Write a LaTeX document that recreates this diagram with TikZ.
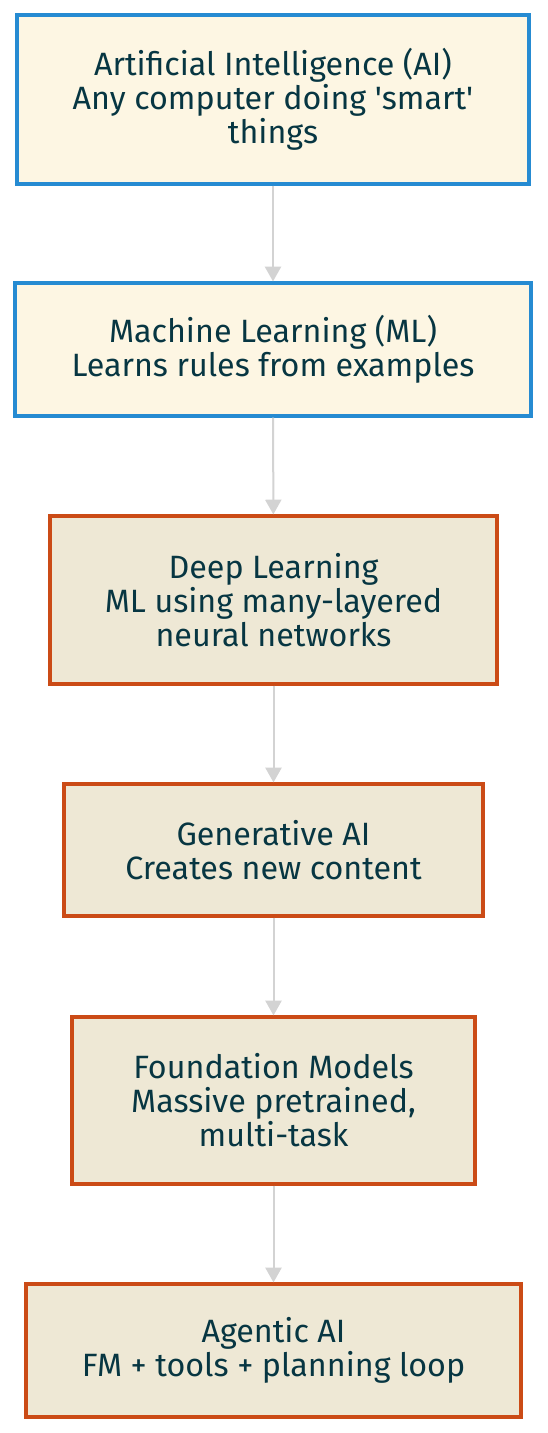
\documentclass[tikz,border=0pt]{standalone}
\usepackage{fontspec}
\setmainfont{Fira Sans}
\usetikzlibrary{arrows.meta}
\definecolor{txt}{HTML}{073642}
\definecolor{blueb}{HTML}{268BD2}
\definecolor{orangeb}{HTML}{CB4B16}
\definecolor{fillA}{HTML}{FDF6E3}
\definecolor{fillB}{HTML}{EEE8D5}
\definecolor{edge}{HTML}{D3D3D3}
\tikzset{
  box/.style={draw, line width=2.4pt, text=txt, align=center, inner sep=0pt,
    font=\fontsize{24.2pt}{25.5pt}\selectfont},
  bluebox/.style={box, draw=blueb, fill=fillA},
  orangebox/.style={box, draw=orangeb, fill=fillB},
  conn/.style={draw=edge, line width=1.5pt, -{Triangle[width=12pt,length=11pt]}}
}
\begin{document}
\begin{tikzpicture}[x=0.75pt,y=-0.75pt]
\useasboundingbox (0,0) rectangle (547,1433);
\node[bluebox, minimum width=512*0.75pt, minimum height=169*0.75pt] (ai) at (273,99.5)
  {Artificial Intelligence (AI)\\Any computer doing \textquotesingle smart\textquotesingle\\things};
\node[bluebox, minimum width=516*0.75pt, minimum height=133*0.75pt] (ml) at (273,349.5)
  {Machine Learning (ML)\\Learns rules from examples};
\node[orangebox, minimum width=447*0.75pt, minimum height=168*0.75pt] (dl) at (273.5,600)
  {Deep Learning\\ML using many-layered\\neural networks};
\node[orangebox, minimum width=419*0.75pt, minimum height=132*0.75pt] (gen) at (273.5,850)
  {Generative AI\\Creates new content};
\node[orangebox, minimum width=403*0.75pt, minimum height=167*0.75pt] (fm) at (273.5,1100.5)
  {Foundation Models\\Massive pretrained,\\multi-task};
\node[orangebox, minimum width=495*0.75pt, minimum height=133*0.75pt] (ag) at (273.5,1350.5)
  {Agentic AI\\FM + tools + planning loop};
\draw[conn] (ai) -- (ml);
\draw[conn] (ml) -- (dl);
\draw[conn] (dl) -- (gen);
\draw[conn] (gen) -- (fm);
\draw[conn] (fm) -- (ag);
\end{tikzpicture}
\end{document}
